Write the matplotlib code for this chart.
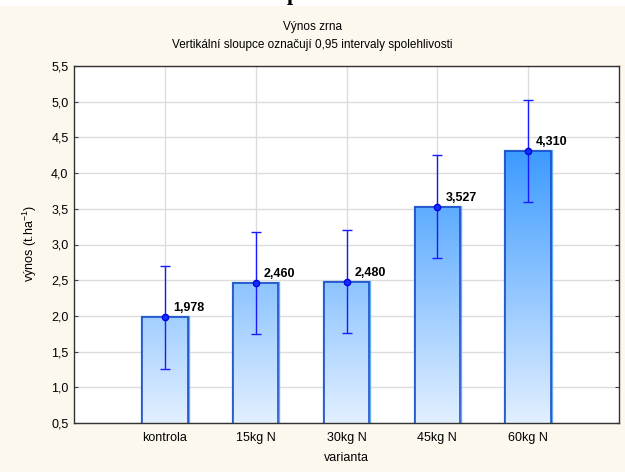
import numpy as np
import matplotlib.pyplot as plt
from matplotlib.colors import LinearSegmentedColormap

plt.rcParams['font.family'] = ['Liberation Sans', 'DejaVu Sans']
plt.rcParams['font.size'] = 9
plt.rcParams['mathtext.fontset'] = 'custom'
plt.rcParams['mathtext.rm'] = 'Liberation Sans'
plt.rcParams['mathtext.it'] = 'Liberation Sans:italic'

# Data (průměry a 0,95 intervaly spolehlivosti)
varianty = ['kontrola', '15kg N', '30kg N', '45kg N', '60kg N']
prumery = [1.978, 2.460, 2.480, 3.527, 4.310]
ci95 = [0.72, 0.72, 0.72, 0.72, 0.72]
popisky = ['1,978', '2,460', '2,480', '3,527', '4,310']
y_ticks = [0.5, 1.0, 1.5, 2.0, 2.5, 3.0, 3.5, 4.0, 4.5, 5.0, 5.5]

W, H = 625, 472
fig = plt.figure(figsize=(W / 100, H / 100), dpi=100, facecolor='#fdf8ee')

# bílý pruh nahoře (zbytek nadpisu stránky)
fig.patches.append(plt.Rectangle((0, 1 - 6 / H), 1, 6 / H, transform=fig.transFigure,
                                 facecolor='white', edgecolor='none', zorder=0))
fig.text(293 / W, 1.0, 'p', fontfamily='Liberation Serif', fontweight='bold',
         fontsize=16, ha='center', va='baseline')

ax = fig.add_axes([74 / W, 1 - 423 / H, 545 / W, 357 / H])
ax.set_facecolor('white')
x = np.arange(len(varianty))

ax.grid(True, color='#dcdcdc', lw=1)
ax.set_axisbelow(True)

# sloupce s přechodem barvy
modra = LinearSegmentedColormap.from_list('modra', ['#e2f0ff', '#3898ff'])
grad = np.linspace(0.5, 5.5, 256).reshape(-1, 1)
bars = ax.bar(x, prumery, width=0.5, color='none', edgecolor='#62acf2', lw=2.4, zorder=2)
for b in bars:
    im = ax.imshow(grad, cmap=modra, vmin=0.5, vmax=4.4, extent=[-1, 5, 0.5, 5.5],
                   origin='lower', aspect='auto', zorder=2.1)
    im.set_clip_path(b)
ax.bar(x, prumery, width=0.5, color='none', edgecolor='#1444c4', lw=1.1, zorder=2.2)

ax.errorbar(x, prumery, yerr=ci95, fmt='o', color='#1a1aff', ecolor='#1a1aff',
            elinewidth=1, capsize=3.6, capthick=1, ms=4.5, mfc='#1030ff', mec='#0000e0',
            zorder=3)

for xi, yi, t in zip(x, prumery, popisky):
    ax.annotate(t, (xi, yi), xytext=(8, 6), textcoords='offset pixels', fontsize=9,
                fontweight='bold', ha='left', va='baseline', zorder=4)

ax.set_xlim(-1, 5)
ax.set_ylim(0.5, 5.5)
ax.set_xticks(x)
ax.set_xticklabels(varianty)
ax.set_yticks(y_ticks)
ax.set_yticklabels([f'{v:.1f}'.replace('.', ',') for v in y_ticks])
ax.tick_params(direction='in', length=3, right=True, color='#444444', labelcolor='black')
ax.tick_params(axis='y', pad=4)
ax.tick_params(axis='x', pad=6.5)
for s in ax.spines.values():
    s.set_color('#333333')
    s.set_linewidth(1)

fig.text(0.5, 1 - 27 / H, 'Výnos zrna', ha='center', va='center', fontsize=8.5)
fig.text(0.5, 1 - 45 / H, 'Vertikální sloupce označují 0,95 intervaly spolehlivosti',
         ha='center', va='center', fontsize=8.5)
fig.text(30 / W, 1 - 244 / H, 'výnos (t.ha$^{\\mathrm{-1}}$)', rotation=90,
         ha='center', va='center', fontsize=9)
fig.text(346 / W, 1 - 458 / H, 'varianta', ha='center', va='center', fontsize=9)

fig.savefig('out.png', dpi=100, facecolor=fig.get_facecolor())
